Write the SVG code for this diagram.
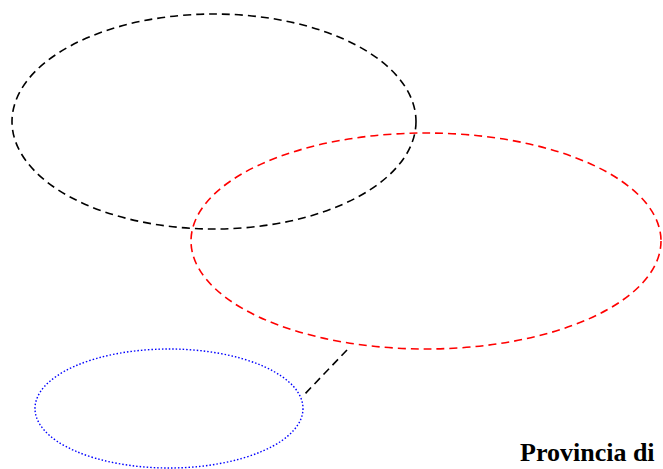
<svg xmlns="http://www.w3.org/2000/svg" width="663" height="469" viewBox="0 0 663 469">
<style>
.dash{fill:none;stroke-width:1.6;stroke-dasharray:8 5}
.dot{fill:none;stroke:#0000ff;stroke-width:1.4;stroke-dasharray:1.5 2}
.lbl{font-family:"Liberation Serif","Times New Roman",serif;font-weight:bold;font-size:26px;fill:#000}
</style>
<rect width="663" height="469" fill="#fff"/>
<g id="black-ellipse"><ellipse class="dash" stroke="#000" cx="214" cy="121.5" rx="202" ry="107.5"/></g>
<g id="red-ellipse"><ellipse class="dash" stroke="#ff0000" cx="426" cy="241" rx="235" ry="108"/></g>
<g id="blue-ellipse"><ellipse class="dot" cx="169" cy="408.5" rx="134" ry="59.5"/></g>
<g id="connectors"><line class="dash" stroke="#000" x1="347" y1="350" x2="302" y2="397"/></g>
<g id="label"><text class="lbl" x="520" y="461">Provincia di</text></g>
</svg>
